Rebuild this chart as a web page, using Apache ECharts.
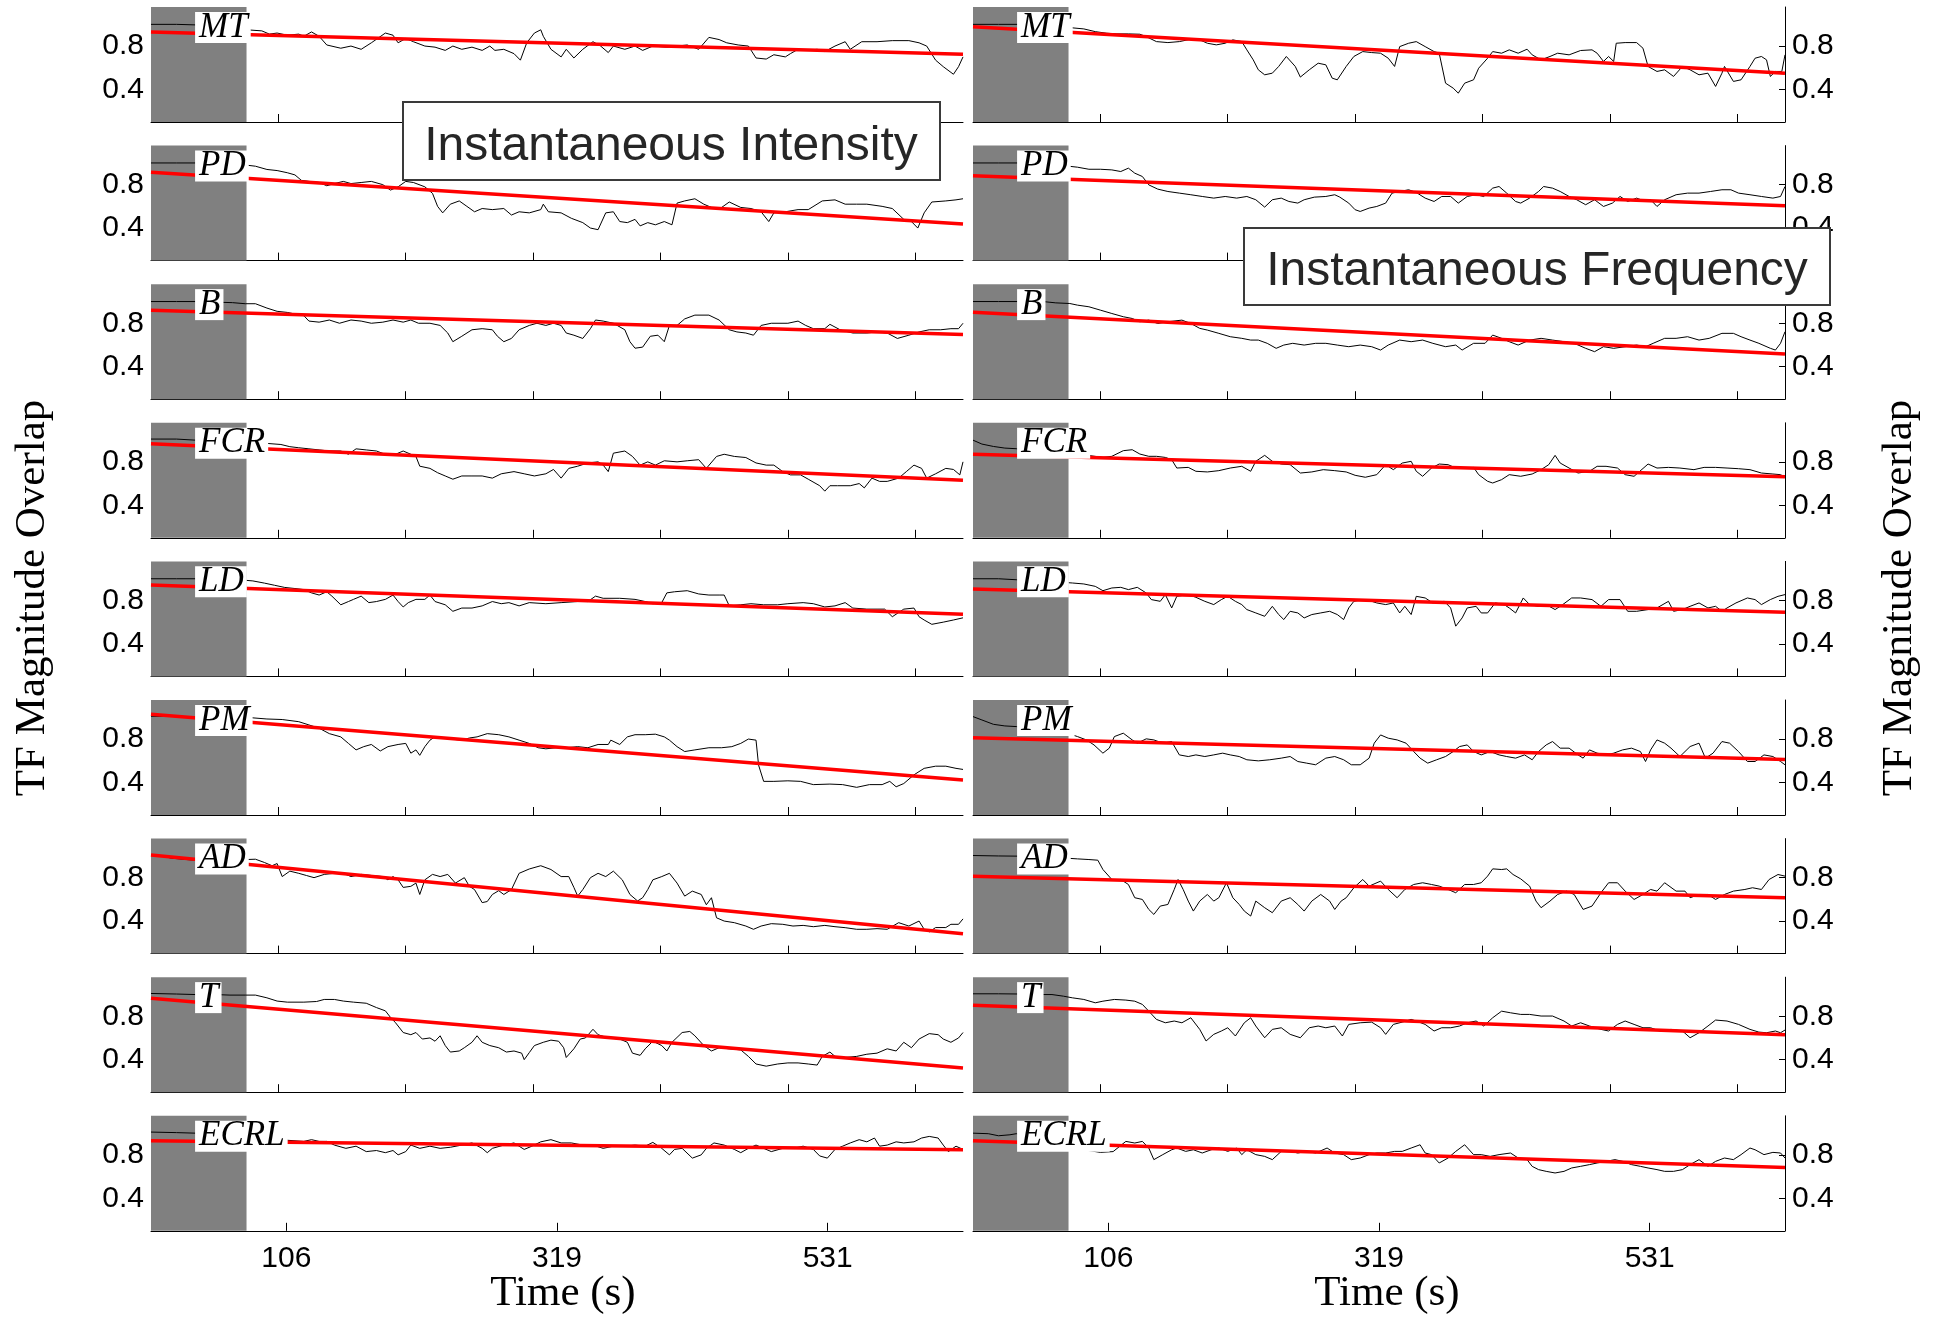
<!DOCTYPE html>
<html>
<head>
<meta charset="utf-8">
<title>TF Magnitude Overlap</title>
<script src="https://cdn.jsdelivr.net/npm/echarts@6.0.0/dist/echarts.min.js"></script>
<style>
  html, body { margin: 0; padding: 0; background: #fff; }
  #chart { width: 1941px; height: 1317px; }
</style>
</head>
<body>
<div id="chart"></div>
<script>
const muscles = ['MT', 'PD', 'B', 'FCR', 'LD', 'PM', 'AD', 'T', 'ECRL']
const timeMax = 637.5
const baselineEnd = 75 // gray block at the start of every trace
const yMin = 0.1
const yMax = 1.16
const yTicks = [0.4, 0.8]
const timeTicks = [100, 200, 300, 400, 500, 600]
const timeLabels = [106.25, 318.75, 531.25]

// red fit line: [value at t=0, value at t=end]
const intensityFit = [[0.93, 0.725], [0.915, 0.437], [0.92, 0.696], [0.968, 0.631], [0.943, 0.674], [1.028, 0.422], [1.009, 0.283], [0.966, 0.323], [0.931, 0.846]]
const frequencyFit = [[0.979, 0.55], [0.883, 0.605], [0.902, 0.516], [0.87, 0.662], [0.906, 0.692], [0.811, 0.611], [0.813, 0.614], [0.902, 0.629], [0.931, 0.683]]

// instantaneous intensity, [time, overlap]
const intensityMT = [[0,1.0],[20,1.0],[35,0.995],[55,0.97],[75,0.95],[87,0.94],[93,0.91],[99,0.92],[107,0.90],[116,0.91],[120,0.89],[126,0.93],[132,0.89],[138,0.81],[149,0.78],[157,0.80],[165,0.77],[173,0.83],[184,0.92],[190,0.90],[194,0.83],[200,0.87],[206,0.84],[215,0.80],[223,0.79],[231,0.76],[237,0.80],[244,0.77],[252,0.79],[260,0.76],[266,0.80],[270,0.76],[277,0.77],[285,0.73],[290,0.67],[295,0.83],[301,0.92],[306,0.95],[308,0.89],[314,0.77],[322,0.70],[326,0.77],[332,0.69],[339,0.77],[347,0.84],[353,0.80],[359,0.74],[363,0.80],[372,0.77],[380,0.80],[386,0.76],[394,0.80],[405,0.79],[413,0.80],[421,0.81],[430,0.77],[438,0.88],[446,0.86],[452,0.83],[461,0.81],[469,0.80],[475,0.69],[483,0.68],[489,0.72],[498,0.70],[502,0.73],[508,0.77],[514,0.76],[523,0.77],[529,0.75],[537,0.80],[545,0.84],[549,0.77],[558,0.84],[570,0.84],[582,0.85],[595,0.85],[603,0.83],[609,0.80],[616,0.67],[622,0.61],[630,0.54],[634,0.61],[637.5,0.70]]
const intensityPD = [[0,1.0],[20,1.0],[35,1.0],[55,0.99],[75,0.98],[82,0.97],[91,0.94],[99,0.93],[107,0.91],[113,0.89],[118,0.84],[124,0.83],[132,0.82],[138,0.79],[144,0.81],[151,0.83],[157,0.81],[165,0.82],[173,0.83],[182,0.80],[188,0.75],[194,0.78],[200,0.83],[206,0.82],[215,0.78],[221,0.72],[225,0.60],[229,0.54],[235,0.62],[242,0.65],[248,0.60],[254,0.55],[260,0.58],[268,0.57],[277,0.58],[283,0.52],[289,0.55],[297,0.54],[306,0.57],[308,0.62],[312,0.55],[322,0.54],[330,0.49],[339,0.45],[345,0.40],[351,0.385],[357,0.54],[363,0.55],[368,0.46],[374,0.45],[380,0.48],[384,0.42],[390,0.45],[396,0.43],[403,0.46],[409,0.43],[413,0.63],[419,0.65],[427,0.67],[434,0.62],[442,0.58],[448,0.59],[454,0.64],[463,0.59],[471,0.58],[479,0.55],[485,0.46],[489,0.54],[498,0.55],[508,0.57],[516,0.57],[527,0.65],[537,0.66],[545,0.62],[554,0.62],[562,0.62],[574,0.60],[582,0.58],[591,0.48],[597,0.46],[602,0.40],[607,0.54],[613,0.64],[624,0.65],[632,0.66],[637.5,0.67]]
const intensityB = [[0,1.0],[20,1.0],[35,1.0],[50,0.995],[64,0.99],[74,0.98],[82,0.98],[91,0.94],[99,0.91],[107,0.90],[115,0.88],[120,0.87],[124,0.82],[132,0.81],[140,0.83],[148,0.80],[157,0.83],[165,0.82],[173,0.80],[182,0.81],[190,0.83],[198,0.81],[204,0.83],[210,0.80],[219,0.80],[227,0.78],[233,0.71],[237,0.63],[244,0.68],[252,0.74],[260,0.75],[268,0.74],[272,0.68],[277,0.63],[283,0.66],[289,0.74],[297,0.78],[303,0.80],[310,0.78],[316,0.80],[322,0.78],[326,0.71],[332,0.69],[339,0.66],[345,0.75],[349,0.83],[355,0.82],[363,0.80],[372,0.74],[376,0.63],[380,0.57],[386,0.58],[392,0.68],[398,0.69],[403,0.63],[407,0.78],[413,0.78],[419,0.84],[427,0.875],[438,0.875],[446,0.83],[454,0.74],[460,0.72],[467,0.71],[473,0.69],[479,0.78],[487,0.80],[500,0.80],[508,0.82],[514,0.78],[520,0.75],[529,0.75],[533,0.79],[541,0.74],[551,0.71],[562,0.71],[570,0.72],[578,0.71],[586,0.66],[595,0.69],[603,0.72],[611,0.74],[620,0.74],[628,0.75],[634,0.75],[637.5,0.80]]
const intensityFCR = [[0,1.01],[20,1.01],[35,1.0],[60,0.99],[80,0.98],[102,0.96],[109,0.94],[116,0.93],[124,0.92],[132,0.91],[140,0.90],[149,0.90],[155,0.87],[161,0.92],[169,0.91],[177,0.90],[186,0.86],[192,0.87],[198,0.90],[204,0.87],[208,0.85],[211,0.76],[219,0.74],[225,0.70],[231,0.67],[237,0.64],[244,0.67],[252,0.67],[260,0.67],[268,0.65],[275,0.69],[285,0.71],[293,0.69],[301,0.67],[310,0.69],[316,0.73],[322,0.65],[328,0.74],[335,0.76],[343,0.79],[351,0.80],[355,0.77],[359,0.71],[363,0.88],[372,0.90],[378,0.85],[384,0.77],[390,0.80],[396,0.77],[403,0.81],[413,0.80],[421,0.81],[430,0.82],[436,0.74],[444,0.85],[450,0.87],[458,0.85],[467,0.84],[475,0.79],[483,0.77],[489,0.77],[496,0.71],[502,0.68],[510,0.68],[516,0.64],[525,0.58],[529,0.53],[533,0.58],[539,0.58],[549,0.58],[556,0.60],[560,0.56],[566,0.65],[572,0.62],[578,0.62],[587,0.65],[593,0.71],[599,0.77],[605,0.74],[609,0.65],[616,0.69],[624,0.74],[630,0.73],[635,0.68],[637.5,0.80]]
const intensityLD = [[0,1.0],[20,1.0],[35,1.0],[55,0.995],[70,0.99],[80,0.98],[89,0.96],[97,0.94],[105,0.92],[113,0.91],[120,0.90],[126,0.87],[132,0.85],[138,0.88],[142,0.84],[149,0.76],[155,0.79],[159,0.81],[165,0.84],[171,0.78],[177,0.79],[184,0.81],[190,0.85],[194,0.79],[198,0.74],[202,0.78],[208,0.81],[215,0.81],[219,0.85],[223,0.79],[231,0.76],[237,0.70],[244,0.73],[252,0.73],[260,0.75],[268,0.79],[275,0.77],[281,0.78],[289,0.75],[297,0.78],[310,0.77],[322,0.78],[335,0.79],[343,0.79],[349,0.84],[355,0.82],[368,0.82],[380,0.81],[388,0.79],[394,0.77],[401,0.78],[405,0.87],[411,0.88],[421,0.89],[430,0.86],[438,0.85],[446,0.85],[450,0.85],[454,0.75],[463,0.76],[471,0.77],[481,0.76],[492,0.76],[500,0.77],[512,0.78],[520,0.77],[529,0.74],[537,0.75],[545,0.78],[551,0.73],[562,0.72],[570,0.72],[576,0.72],[582,0.65],[591,0.72],[599,0.73],[603,0.65],[607,0.62],[613,0.58],[622,0.60],[630,0.62],[637.5,0.64]]
const intensityPM = [[0,1.01],[20,1.01],[35,1.0],[60,1.0],[75,1.0],[91,0.985],[103,0.98],[116,0.96],[124,0.93],[132,0.90],[140,0.85],[149,0.82],[155,0.76],[161,0.70],[167,0.73],[173,0.75],[180,0.69],[186,0.73],[194,0.75],[200,0.76],[204,0.67],[208,0.70],[211,0.65],[215,0.73],[219,0.79],[223,0.82],[229,0.81],[235,0.80],[244,0.79],[250,0.81],[256,0.82],[264,0.85],[273,0.84],[281,0.82],[289,0.79],[297,0.76],[304,0.72],[310,0.71],[318,0.72],[326,0.72],[335,0.73],[343,0.72],[351,0.75],[359,0.75],[361,0.79],[368,0.75],[374,0.82],[380,0.84],[388,0.84],[396,0.845],[403,0.82],[407,0.79],[413,0.73],[419,0.685],[427,0.70],[438,0.72],[448,0.72],[456,0.73],[463,0.76],[469,0.80],[475,0.79],[477,0.56],[481,0.41],[489,0.41],[500,0.415],[510,0.41],[520,0.38],[533,0.385],[543,0.38],[554,0.355],[564,0.38],[574,0.38],[580,0.41],[585,0.36],[591,0.39],[599,0.47],[607,0.53],[616,0.55],[624,0.55],[632,0.53],[637.5,0.52]]
const intensityAD = [[0,1.01],[8,1.0],[16,0.98],[25,0.97],[35,0.96],[55,0.96],[70,0.965],[82,0.97],[89,0.94],[95,0.91],[99,0.93],[103,0.81],[109,0.86],[116,0.84],[122,0.82],[128,0.80],[136,0.83],[144,0.84],[151,0.84],[157,0.81],[165,0.83],[173,0.82],[182,0.81],[186,0.78],[190,0.81],[194,0.78],[198,0.71],[204,0.72],[208,0.75],[211,0.645],[215,0.78],[221,0.83],[227,0.81],[233,0.83],[239,0.75],[246,0.80],[250,0.72],[254,0.69],[260,0.57],[264,0.58],[268,0.645],[273,0.68],[277,0.645],[283,0.69],[289,0.84],[297,0.88],[306,0.91],[314,0.875],[322,0.81],[328,0.81],[332,0.71],[335,0.63],[339,0.69],[345,0.80],[351,0.84],[357,0.81],[363,0.86],[370,0.78],[376,0.645],[382,0.585],[386,0.615],[390,0.69],[394,0.78],[401,0.81],[407,0.84],[413,0.75],[419,0.63],[425,0.676],[432,0.645],[436,0.55],[440,0.615],[444,0.43],[450,0.40],[458,0.385],[467,0.354],[473,0.324],[479,0.354],[487,0.376],[496,0.37],[504,0.354],[512,0.36],[520,0.348],[529,0.36],[537,0.348],[545,0.339],[554,0.324],[562,0.324],[570,0.33],[578,0.324],[587,0.385],[595,0.354],[603,0.40],[607,0.324],[611,0.30],[616,0.34],[624,0.34],[628,0.37],[634,0.37],[637.5,0.42]]
const intensityT = [[0,1.01],[20,1.005],[35,1.0],[50,1.0],[62,0.995],[74,0.995],[82,0.995],[91,0.97],[99,0.94],[107,0.93],[120,0.93],[130,0.936],[136,0.955],[144,0.955],[151,0.94],[159,0.93],[169,0.92],[177,0.88],[184,0.85],[188,0.79],[192,0.74],[198,0.65],[204,0.63],[208,0.65],[213,0.59],[219,0.60],[223,0.57],[227,0.62],[231,0.53],[235,0.47],[242,0.48],[246,0.51],[252,0.56],[256,0.62],[260,0.56],[266,0.53],[273,0.51],[279,0.47],[285,0.48],[291,0.46],[293,0.40],[297,0.465],[301,0.53],[308,0.56],[314,0.58],[320,0.57],[324,0.51],[326,0.42],[332,0.50],[337,0.59],[341,0.60],[347,0.68],[351,0.63],[359,0.60],[368,0.59],[374,0.56],[378,0.46],[384,0.44],[388,0.50],[394,0.57],[401,0.53],[405,0.48],[409,0.56],[417,0.65],[423,0.66],[427,0.62],[434,0.53],[440,0.48],[446,0.51],[454,0.50],[463,0.49],[469,0.43],[475,0.36],[483,0.34],[492,0.36],[500,0.37],[508,0.37],[516,0.36],[523,0.35],[527,0.43],[533,0.47],[537,0.43],[545,0.42],[554,0.43],[562,0.45],[570,0.46],[578,0.50],[585,0.48],[591,0.56],[597,0.51],[603,0.59],[611,0.64],[618,0.63],[622,0.59],[628,0.56],[634,0.60],[637.5,0.65]]
const intensityECRL = [[0,1.01],[20,1.005],[35,1.0],[60,0.98],[80,0.96],[100,0.94],[120,0.924],[126,0.94],[132,0.924],[138,0.924],[144,0.89],[153,0.86],[161,0.88],[169,0.83],[177,0.84],[184,0.82],[190,0.84],[194,0.80],[200,0.83],[204,0.89],[211,0.86],[219,0.88],[227,0.86],[235,0.87],[244,0.89],[252,0.91],[260,0.86],[264,0.82],[268,0.86],[277,0.89],[285,0.91],[293,0.85],[299,0.88],[306,0.92],[314,0.94],[322,0.91],[330,0.91],[339,0.89],[347,0.89],[355,0.86],[363,0.88],[372,0.88],[380,0.89],[388,0.88],[394,0.915],[401,0.86],[407,0.80],[411,0.85],[417,0.86],[425,0.77],[432,0.80],[436,0.86],[442,0.91],[450,0.89],[458,0.85],[463,0.82],[469,0.86],[475,0.89],[481,0.86],[487,0.83],[496,0.86],[504,0.86],[512,0.88],[520,0.85],[525,0.79],[531,0.77],[537,0.85],[543,0.88],[549,0.91],[556,0.94],[562,0.92],[568,0.955],[572,0.88],[578,0.89],[585,0.92],[591,0.91],[599,0.92],[605,0.955],[611,0.97],[618,0.955],[622,0.89],[626,0.83],[632,0.88],[637.5,0.85]]

// instantaneous frequency, [time, overlap]
const frequencyMT = [[0,1.0],[20,1.0],[38,1.0],[60,0.98],[76,0.97],[87,0.958],[96,0.933],[105,0.918],[113,0.912],[122,0.912],[131,0.909],[136,0.887],[144,0.841],[153,0.832],[162,0.841],[171,0.863],[178,0.857],[184,0.826],[191,0.811],[198,0.826],[204,0.857],[211,0.841],[215,0.765],[220,0.673],[224,0.581],[229,0.535],[235,0.55],[240,0.612],[246,0.704],[253,0.612],[257,0.514],[264,0.581],[271,0.642],[277,0.627],[282,0.504],[286,0.489],[293,0.612],[299,0.704],[306,0.749],[313,0.74],[320,0.734],[326,0.688],[331,0.612],[335,0.795],[342,0.826],[348,0.841],[355,0.795],[362,0.749],[366,0.734],[371,0.458],[377,0.412],[381,0.366],[386,0.458],[393,0.489],[397,0.596],[404,0.688],[408,0.749],[415,0.734],[421,0.765],[428,0.734],[435,0.771],[439,0.719],[446,0.673],[453,0.704],[459,0.734],[468,0.719],[477,0.759],[486,0.765],[490,0.734],[495,0.658],[499,0.704],[503,0.658],[505,0.826],[512,0.832],[521,0.832],[526,0.78],[530,0.612],[537,0.566],[543,0.581],[550,0.52],[557,0.612],[563,0.581],[570,0.535],[577,0.55],[583,0.428],[588,0.55],[590,0.612],[597,0.474],[603,0.489],[610,0.612],[614,0.688],[619,0.704],[623,0.673],[626,0.52],[630,0.566],[635,0.566],[637.5,0.719]]
const frequencyPD = [[0,1.0],[20,1.0],[38,1.0],[60,0.99],[82,0.961],[91,0.942],[100,0.942],[109,0.936],[116,0.921],[122,0.952],[127,0.906],[133,0.875],[138,0.798],[145,0.759],[153,0.737],[162,0.722],[171,0.707],[180,0.691],[189,0.676],[198,0.691],[207,0.676],[215,0.691],[222,0.661],[229,0.593],[235,0.661],[242,0.676],[248,0.645],[255,0.63],[260,0.661],[268,0.685],[277,0.691],[284,0.707],[288,0.685],[295,0.63],[300,0.569],[304,0.553],[311,0.584],[317,0.599],[324,0.63],[329,0.722],[335,0.737],[342,0.753],[348,0.728],[355,0.676],[362,0.645],[368,0.691],[375,0.691],[381,0.63],[388,0.691],[395,0.707],[401,0.691],[408,0.768],[413,0.783],[419,0.722],[426,0.645],[430,0.63],[437,0.676],[444,0.737],[448,0.783],[455,0.768],[461,0.737],[468,0.691],[474,0.661],[481,0.615],[488,0.661],[495,0.599],[502,0.63],[508,0.691],[514,0.645],[521,0.676],[528,0.645],[532,0.661],[537,0.599],[543,0.661],[552,0.707],[561,0.722],[570,0.722],[579,0.737],[588,0.753],[595,0.753],[601,0.722],[610,0.707],[619,0.691],[628,0.676],[634,0.691],[637.5,0.783]]
const frequencyB = [[0,1.0],[20,1.0],[38,1.0],[55,1.0],[65,0.988],[76,0.982],[82,0.967],[91,0.952],[100,0.921],[109,0.89],[118,0.86],[125,0.844],[131,0.814],[138,0.829],[145,0.798],[153,0.814],[164,0.829],[171,0.798],[178,0.753],[184,0.737],[193,0.707],[202,0.676],[211,0.661],[218,0.645],[224,0.645],[231,0.615],[238,0.569],[244,0.599],[251,0.615],[260,0.599],[269,0.615],[277,0.615],[286,0.599],[295,0.584],[304,0.599],[313,0.584],[320,0.553],[326,0.599],[335,0.645],[344,0.63],[353,0.645],[361,0.615],[371,0.584],[379,0.599],[384,0.553],[393,0.615],[402,0.615],[408,0.691],[415,0.661],[421,0.63],[428,0.599],[437,0.645],[446,0.661],[455,0.645],[464,0.63],[472,0.615],[481,0.569],[488,0.538],[495,0.584],[503,0.569],[512,0.584],[521,0.599],[528,0.584],[534,0.615],[543,0.661],[552,0.661],[561,0.676],[570,0.645],[578,0.661],[588,0.707],[597,0.707],[603,0.676],[610,0.645],[617,0.615],[626,0.569],[630,0.553],[634,0.615],[637.5,0.722]]
const frequencyFCR = [[0,1.0],[7,0.964],[16,0.942],[25,0.927],[34,0.921],[50,0.9],[70,0.88],[90,0.86],[102,0.841],[109,0.851],[118,0.903],[125,0.912],[131,0.872],[138,0.851],[144,0.851],[151,0.841],[156,0.82],[160,0.743],[169,0.749],[175,0.713],[184,0.707],[193,0.719],[202,0.743],[211,0.759],[218,0.713],[222,0.805],[229,0.86],[235,0.805],[242,0.78],[249,0.774],[257,0.697],[266,0.707],[275,0.728],[284,0.719],[293,0.707],[300,0.676],[308,0.658],[317,0.682],[324,0.774],[330,0.728],[337,0.789],[344,0.805],[348,0.713],[353,0.667],[360,0.743],[366,0.78],[373,0.774],[379,0.743],[388,0.743],[393,0.749],[397,0.682],[404,0.621],[408,0.605],[415,0.636],[421,0.682],[430,0.667],[439,0.688],[446,0.728],[452,0.774],[457,0.86],[461,0.789],[468,0.743],[475,0.697],[484,0.713],[490,0.759],[497,0.759],[506,0.743],[512,0.682],[519,0.667],[530,0.78],[537,0.743],[546,0.749],[555,0.743],[566,0.728],[574,0.749],[583,0.749],[592,0.743],[601,0.737],[610,0.728],[619,0.697],[628,0.688],[634,0.682],[637.5,0.658]]
const frequencyLD = [[0,1.0],[20,1.0],[34,0.991],[55,0.98],[78,0.961],[87,0.952],[96,0.93],[102,0.89],[109,0.915],[116,0.921],[122,0.9],[129,0.921],[136,0.869],[140,0.808],[147,0.792],[151,0.854],[156,0.731],[160,0.838],[169,0.854],[175,0.829],[182,0.792],[189,0.762],[195,0.808],[200,0.838],[206,0.792],[211,0.762],[215,0.716],[222,0.685],[229,0.654],[235,0.746],[240,0.67],[244,0.624],[249,0.7],[255,0.685],[260,0.639],[266,0.67],[273,0.685],[280,0.7],[286,0.67],[291,0.624],[295,0.731],[299,0.792],[306,0.808],[313,0.792],[317,0.777],[324,0.762],[330,0.777],[335,0.685],[339,0.746],[344,0.67],[348,0.838],[355,0.823],[361,0.777],[370,0.792],[375,0.731],[379,0.563],[384,0.639],[388,0.731],[395,0.746],[399,0.685],[404,0.685],[410,0.777],[417,0.762],[421,0.731],[426,0.685],[432,0.823],[437,0.762],[444,0.746],[450,0.762],[457,0.716],[463,0.762],[470,0.823],[477,0.823],[486,0.808],[493,0.746],[499,0.808],[508,0.808],[514,0.7],[521,0.7],[530,0.716],[537,0.731],[546,0.792],[550,0.7],[557,0.716],[563,0.746],[570,0.777],[577,0.731],[583,0.746],[588,0.7],[592,0.731],[599,0.777],[608,0.823],[614,0.808],[619,0.762],[626,0.808],[632,0.838],[637.5,0.854]]
const frequencyPM = [[0,1.007],[7,0.976],[16,0.936],[25,0.921],[34,0.915],[55,0.88],[75,0.85],[82,0.823],[89,0.792],[95,0.746],[102,0.67],[107,0.716],[111,0.823],[118,0.854],[125,0.792],[129,0.762],[136,0.802],[142,0.792],[149,0.762],[156,0.777],[162,0.654],[169,0.639],[175,0.654],[182,0.639],[189,0.654],[196,0.67],[202,0.654],[209,0.639],[215,0.609],[224,0.599],[233,0.609],[242,0.624],[249,0.639],[255,0.593],[262,0.578],[269,0.563],[277,0.624],[284,0.639],[291,0.609],[297,0.563],[304,0.563],[311,0.624],[315,0.762],[320,0.838],[326,0.808],[333,0.792],[340,0.762],[346,0.685],[351,0.624],[357,0.578],[364,0.609],[371,0.639],[377,0.685],[382,0.731],[388,0.746],[393,0.685],[399,0.654],[406,0.685],[413,0.654],[419,0.639],[426,0.624],[433,0.654],[439,0.609],[444,0.685],[450,0.746],[455,0.777],[461,0.716],[468,0.716],[475,0.654],[479,0.624],[484,0.7],[490,0.67],[497,0.654],[503,0.67],[510,0.7],[517,0.716],[524,0.685],[528,0.593],[532,0.7],[537,0.792],[543,0.762],[548,0.716],[555,0.639],[559,0.685],[563,0.731],[570,0.762],[575,0.624],[581,0.67],[588,0.777],[594,0.762],[601,0.685],[608,0.593],[614,0.593],[621,0.654],[628,0.639],[634,0.593],[637.5,0.563]]
const frequencyAD = [[0,1.004],[20,1.0],[38,0.998],[60,0.99],[82,0.973],[91,0.967],[98,0.961],[102,0.875],[109,0.783],[116,0.783],[122,0.737],[127,0.615],[133,0.599],[138,0.507],[142,0.461],[147,0.538],[153,0.553],[158,0.691],[161,0.783],[165,0.691],[169,0.584],[173,0.492],[178,0.584],[184,0.645],[189,0.584],[193,0.615],[199,0.753],[204,0.615],[209,0.553],[213,0.492],[218,0.446],[222,0.584],[229,0.523],[235,0.477],[242,0.584],[249,0.615],[255,0.553],[260,0.492],[266,0.584],[273,0.645],[280,0.584],[284,0.507],[289,0.584],[293,0.615],[299,0.707],[306,0.783],[311,0.722],[320,0.768],[326,0.691],[333,0.615],[339,0.691],[346,0.737],[353,0.753],[360,0.737],[366,0.722],[373,0.691],[379,0.661],[386,0.737],[393,0.737],[399,0.753],[404,0.814],[408,0.881],[415,0.875],[419,0.881],[424,0.829],[430,0.789],[437,0.722],[442,0.584],[446,0.523],[453,0.584],[459,0.645],[466,0.676],[472,0.645],[479,0.507],[486,0.538],[493,0.661],[499,0.753],[506,0.753],[512,0.676],[519,0.599],[526,0.645],[532,0.691],[537,0.676],[543,0.753],[552,0.676],[559,0.676],[563,0.615],[570,0.645],[577,0.645],[583,0.599],[590,0.645],[597,0.676],[606,0.691],[612,0.707],[619,0.691],[625,0.783],[632,0.829],[637.5,0.814]]
const frequencyT = [[0,1.007],[20,1.007],[38,1.005],[55,1.0],[62,1.0],[71,0.985],[78,0.97],[87,0.955],[96,0.924],[102,0.939],[111,0.955],[120,0.949],[127,0.939],[133,0.909],[138,0.847],[144,0.771],[151,0.74],[158,0.756],[164,0.74],[171,0.786],[178,0.679],[183,0.572],[189,0.633],[195,0.664],[200,0.694],[206,0.618],[213,0.74],[218,0.786],[222,0.71],[229,0.602],[235,0.679],[242,0.694],[249,0.633],[257,0.602],[264,0.694],[271,0.71],[277,0.694],[284,0.71],[290,0.618],[295,0.725],[304,0.74],[313,0.746],[320,0.694],[324,0.633],[330,0.725],[337,0.746],[344,0.771],[348,0.756],[355,0.725],[362,0.664],[368,0.694],[375,0.694],[382,0.71],[388,0.74],[395,0.756],[401,0.71],[408,0.786],[415,0.847],[422,0.832],[430,0.817],[437,0.817],[446,0.802],[455,0.802],[464,0.756],[470,0.71],[477,0.74],[484,0.71],[493,0.679],[499,0.664],[506,0.725],[512,0.756],[519,0.725],[526,0.694],[532,0.694],[539,0.664],[548,0.679],[557,0.664],[563,0.602],[570,0.648],[577,0.71],[583,0.765],[592,0.756],[601,0.725],[610,0.679],[617,0.654],[623,0.648],[630,0.664],[634,0.648],[637.5,0.673]]
const frequencyECRL = [[0,1.0],[12,0.995],[20,0.976],[29,0.985],[34,0.995],[60,0.93],[85,0.85],[100,0.823],[110,0.83],[120,0.924],[127,0.909],[133,0.924],[138,0.863],[142,0.756],[149,0.802],[156,0.847],[160,0.863],[167,0.832],[173,0.847],[180,0.817],[187,0.847],[193,0.863],[200,0.832],[207,0.863],[211,0.802],[215,0.847],[222,0.802],[229,0.786],[235,0.756],[242,0.832],[249,0.832],[255,0.817],[262,0.832],[269,0.817],[278,0.863],[284,0.817],[291,0.802],[297,0.756],[304,0.771],[311,0.802],[317,0.817],[324,0.817],[331,0.832],[337,0.832],[344,0.863],[351,0.893],[355,0.817],[360,0.802],[366,0.725],[373,0.771],[379,0.832],[386,0.893],[393,0.802],[399,0.802],[406,0.786],[413,0.802],[422,0.817],[428,0.771],[435,0.756],[439,0.694],[444,0.664],[450,0.648],[457,0.633],[464,0.648],[470,0.679],[477,0.694],[484,0.71],[490,0.725],[497,0.74],[504,0.756],[510,0.74],[517,0.71],[524,0.694],[530,0.679],[537,0.664],[543,0.648],[550,0.648],[557,0.664],[563,0.71],[570,0.756],[577,0.694],[583,0.74],[590,0.771],[597,0.756],[603,0.802],[610,0.863],[614,0.847],[621,0.802],[628,0.823],[634,0.817],[637.5,0.771]]

const intensityData = [intensityMT, intensityPD, intensityB, intensityFCR, intensityLD, intensityPM, intensityAD, intensityT, intensityECRL]
const frequencyData = [frequencyMT, frequencyPD, frequencyB, frequencyFCR, frequencyLD, frequencyPM, frequencyAD, frequencyT, frequencyECRL]

const chart = echarts.init(document.getElementById('chart'))

const tickFont = { color: '#000', fontFamily: 'Liberation Sans', fontSize: 30 }
const columns = [
  { left: 151, data: intensityData, fit: intensityFit, side: 'left' },
  { left: 973, data: frequencyData, fit: frequencyFit, side: 'right' }
]

const grids = []
const xAxes = []
const yAxes = []
const series = []

columns.forEach((col) => {
  muscles.forEach((name, r) => {
    const i = grids.length
    const lastRow = r === muscles.length - 1
    grids.push({ left: col.left, top: 7 + 138.6 * r, width: 812, height: 115, outerBoundsMode: 'none' })
    xAxes.push({
      gridIndex: i,
      type: 'value',
      min: 0,
      max: timeMax,
      axisLine: { show: true, onZero: false, lineStyle: { color: '#000', width: 1 } },
      axisTick: { show: true, inside: true, length: 8, customValues: lastRow ? timeLabels : timeTicks, lineStyle: { color: '#000' } },
      axisLabel: { show: lastRow, customValues: timeLabels, formatter: (v) => String(Math.round(v)), margin: 13, ...tickFont },
      splitLine: { show: false }
    })
    yAxes.push({
      gridIndex: i,
      type: 'value',
      min: yMin,
      max: yMax,
      position: col.side,
      axisLine: { show: col.side === 'right', onZero: false, lineStyle: { color: '#000', width: 1 } },
      axisTick: { show: col.side === 'right', inside: true, length: 6, customValues: yTicks, lineStyle: { color: '#000' } },
      axisLabel: { customValues: yTicks, formatter: (v) => v.toFixed(1), margin: 7, ...tickFont },
      splitLine: { show: false }
    })
    // gray baseline block
    series.push({
      type: 'custom',
      xAxisIndex: i,
      yAxisIndex: i,
      z: 1,
      silent: true,
      data: [[0, baselineEnd]],
      renderItem: (params, api) => {
        const p0 = api.coord([api.value(0), yMax])
        const p1 = api.coord([api.value(1), yMin])
        return {
          type: 'rect',
          shape: { x: p0[0], y: p0[1], width: p1[0] - p0[0], height: p1[1] - p0[1] },
          style: { fill: '#808080' }
        }
      }
    })
    series.push({
      type: 'line',
      xAxisIndex: i,
      yAxisIndex: i,
      z: 3,
      silent: true,
      showSymbol: false,
      data: col.data[r],
      lineStyle: { color: '#000', width: 1 }
    })
    series.push({
      type: 'line',
      xAxisIndex: i,
      yAxisIndex: i,
      z: 4,
      silent: true,
      showSymbol: false,
      data: [[0, col.fit[r][0]], [timeMax, col.fit[r][1]]],
      lineStyle: { color: '#ff0000', width: 3.5 }
    })
    // muscle name box, drawn over both lines
    series.push({
      type: 'scatter',
      xAxisIndex: i,
      yAxisIndex: i,
      z: 10,
      silent: true,
      symbolSize: 1,
      itemStyle: { color: 'rgba(0,0,0,0)', opacity: 1 },
      data: [{ name: name, value: [35, 1.11] }],
      label: {
        show: true,
        formatter: '{b}',
        position: [0, 0],
        align: 'left',
        verticalAlign: 'top',
        backgroundColor: '#fff',
        opacity: 1,
        padding: [0, 3, 0, 4],
        lineHeight: 31,
        color: '#000',
        fontFamily: 'Liberation Serif',
        fontStyle: 'italic',
        fontSize: 35
      }
    })
  })
})

const serifFont = '43px "Liberation Serif"'
const boxFont = '48px "Liberation Sans"'

const option = {
  animation: false,
  backgroundColor: '#fff',
  grid: grids,
  xAxis: xAxes,
  yAxis: yAxes,
  series: series,
  graphic: [
    { type: 'text', x: 33, y: 598, rotation: Math.PI / 2, z: 50, style: { text: 'TF Magnitude Overlap', font: serifFont, fill: '#000', textAlign: 'center', textVerticalAlign: 'middle' } },
    { type: 'text', x: 1900, y: 598, rotation: Math.PI / 2, z: 50, style: { text: 'TF Magnitude Overlap', font: serifFont, fill: '#000', textAlign: 'center', textVerticalAlign: 'middle' } },
    { type: 'text', x: 563, y: 1294, z: 50, style: { text: 'Time (s)', font: serifFont, fill: '#000', textAlign: 'center', textVerticalAlign: 'middle' } },
    { type: 'text', x: 1387, y: 1294, z: 50, style: { text: 'Time (s)', font: serifFont, fill: '#000', textAlign: 'center', textVerticalAlign: 'middle' } },
    { type: 'rect', z: 100, shape: { x: 403, y: 102, width: 537, height: 78 }, style: { fill: '#fff', stroke: '#3a3a3a', lineWidth: 2 } },
    { type: 'text', z: 101, x: 671, y: 147, style: { text: 'Instantaneous Intensity', font: boxFont, fill: '#262626', textAlign: 'center', textVerticalAlign: 'middle' } },
    { type: 'rect', z: 100, shape: { x: 1244, y: 228, width: 586, height: 77 }, style: { fill: '#fff', stroke: '#3a3a3a', lineWidth: 2 } },
    { type: 'text', z: 101, x: 1537, y: 272, style: { text: 'Instantaneous Frequency', font: boxFont, fill: '#262626', textAlign: 'center', textVerticalAlign: 'middle' } }
  ]
}

chart.setOption(option)
</script>
</body>
</html>
